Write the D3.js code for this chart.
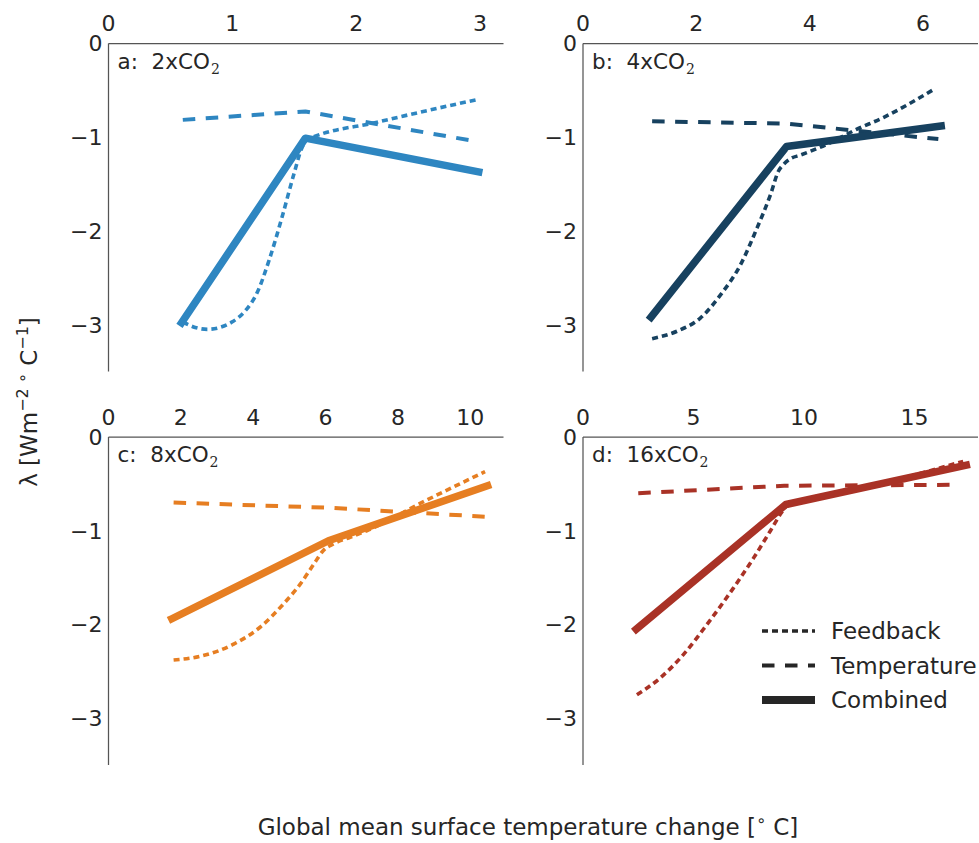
<!DOCTYPE html>
<html>
<head>
<meta charset="utf-8">
<script src="https://cdn.jsdelivr.net/npm/d3@7"></script>
<style>
  body { margin: 0; background: #fff; }
  svg text { font-family: 'DejaVu Sans', sans-serif; fill: #262626; }
</style>
</head>
<body>
<svg id="chart" width="979" height="843"></svg>
<script>
// panel names and axis ranges
const panelLabels = ['a: 2xCO', 'b: 4xCO', 'c: 8xCO', 'd: 16xCO'];
const panelColors = ['#2e86c1', '#17415f', '#e67e22', '#a93226'];
const xMax = [3.19, 6.97, 10.92, 17.87];
const xTicks = [[0, 1, 2, 3], [0, 2, 4, 6], [0, 2, 4, 6, 8, 10], [0, 5, 10, 15]];
const yTicks = [0, -1, -2, -3];
const legendLabels = ['Feedback', 'Temperature', 'Combined'];

// [temperature change, lambda] pairs
const feedbackA = [[0.60, -2.97], [0.70, -3.03], [0.80, -3.05], [0.90, -3.03], [1.00, -2.97], [1.10, -2.86], [1.20, -2.66], [1.30, -2.30], [1.40, -1.86], [1.50, -1.38], [1.56, -1.12], [1.60, -1.03], [2.17, -0.84], [2.97, -0.60]];
const temperatureA = [[0.60, -0.815], [1.59, -0.725], [2.95, -1.04]];
const combinedA = [[0.59, -2.98], [1.59, -1.01], [2.99, -1.37]];

const feedbackB = [[1.22, -3.15], [1.66, -3.07], [2.07, -2.93], [2.43, -2.68], [2.78, -2.36], [3.07, -1.97], [3.31, -1.61], [3.45, -1.36], [3.54, -1.29], [3.66, -1.23], [3.84, -1.19], [4.43, -1.04], [4.78, -0.93], [5.30, -0.79], [6.19, -0.49]];
const temperatureB = [[1.22, -0.83], [3.60, -0.855], [6.27, -1.02]];
const combinedB = [[1.20, -2.92], [3.59, -1.10], [6.32, -0.88]];

const feedbackC = [[1.80, -2.38], [2.54, -2.34], [3.46, -2.21], [4.19, -2.03], [4.84, -1.78], [5.30, -1.57], [5.67, -1.36], [5.94, -1.21], [6.22, -1.14], [6.68, -1.07], [7.14, -1.00], [8.71, -0.69], [10.41, -0.37]];
const temperatureC = [[1.80, -0.70], [6.10, -0.755], [10.40, -0.85]];
const combinedC = [[1.75, -1.94], [6.08, -1.107], [10.48, -0.52]];

const feedbackD = [[2.44, -2.75], [3.50, -2.57], [4.55, -2.32], [5.61, -2.00], [6.81, -1.61], [7.72, -1.29], [8.48, -1.00], [9.00, -0.80], [9.20, -0.74], [13.0, -0.53], [17.2, -0.26]];
const temperatureD = [[2.50, -0.60], [9.10, -0.52], [16.70, -0.51]];
const combinedD = [[2.41, -2.05], [9.18, -0.72], [17.34, -0.30]];

const feedback = [feedbackA, feedbackB, feedbackC, feedbackD];
const temperature = [temperatureA, temperatureB, temperatureC, temperatureD];
const combined = [combinedA, combinedB, combinedC, combinedD];

const svg = d3.select('#chart');
const lefts = [108.5, 583, 108.5, 583];
const tops = [43.5, 43.5, 437, 437];
const axW = 395, axH = 328;

const lineStyles = {
  feedback: { width: 3.6, dash: '6,4', cap: 'butt' },
  temperature: { width: 4, dash: '12.5,10.5', cap: 'butt' },
  combined: { width: 7.5, dash: null, cap: 'square' }
};

function drawLine(g, data, x, y, color, style, curve) {
  g.append('path')
    .datum(data)
    .attr('fill', 'none')
    .attr('stroke', color)
    .attr('stroke-width', style.width)
    .attr('stroke-dasharray', style.dash)
    .attr('stroke-linecap', style.cap)
    .attr('stroke-linejoin', 'round')
    .attr('d', d3.line().x(d => x(d[0])).y(d => y(d[1])).curve(curve));
}

panelLabels.forEach((label, i) => {
  const g = svg.append('g').attr('transform', `translate(${lefts[i]}, ${tops[i]})`);
  const x = d3.scaleLinear().domain([0, xMax[i]]).range([0, axW]);
  const y = d3.scaleLinear().domain([-3.5, 0]).range([axH, 0]);

  // spines: top and left only
  g.append('line').attr('x1', 0).attr('x2', axW).attr('y1', 0).attr('y2', 0)
    .attr('stroke', '#555').attr('stroke-width', 1.25);
  g.append('line').attr('x1', 0).attr('x2', 0).attr('y1', 0).attr('y2', axH)
    .attr('stroke', '#555').attr('stroke-width', 1.25);

  g.selectAll('.xtick')
    .data(xTicks[i])
    .enter()
    .append('text')
    .attr('x', d => x(d))
    .attr('y', -12.5)
    .attr('text-anchor', 'middle')
    .attr('font-size', 22)
    .text(d => d);

  g.selectAll('.ytick')
    .data(yTicks)
    .enter()
    .append('text')
    .attr('x', -6)
    .attr('y', d => y(d))
    .attr('dy', '0.36em')
    .attr('text-anchor', 'end')
    .attr('font-size', 22)
    .text(d => d === 0 ? '0' : '\u2212' + Math.abs(d));

  const t = g.append('text')
    .attr('x', 9)
    .attr('y', 25)
    .attr('font-size', 21.5)
    .text(label.replace(': ', ':\u00a0 '));
  t.append('tspan')
    .attr('dy', 5)
    .attr('dx', 1)
    .attr('font-size', 14)
    .attr('font-family', 'DejaVu Serif, serif')
    .text('2');

  drawLine(g, temperature[i], x, y, panelColors[i], lineStyles.temperature, d3.curveLinear);
  drawLine(g, feedback[i], x, y, panelColors[i], lineStyles.feedback, d3.curveMonotoneX);
  drawLine(g, combined[i], x, y, panelColors[i], lineStyles.combined, d3.curveLinear);
});

// legend in panel d
const legend = svg.append('g').attr('transform', 'translate(762, 631)');
const legendStyles = [lineStyles.feedback, lineStyles.temperature, lineStyles.combined];
legendLabels.forEach((name, i) => {
  const row = legend.append('g').attr('transform', `translate(0, ${i * 34.5})`);
  const st = legendStyles[i];
  row.append('line')
    .attr('x1', st.cap === 'square' ? 4 : 0).attr('x2', st.cap === 'square' ? 49 : 53)
    .attr('y1', 0).attr('y2', 0)
    .attr('stroke', '#262626')
    .attr('stroke-width', i === 2 ? 8 : st.width)
    .attr('stroke-dasharray', st.dash)
    .attr('stroke-linecap', st.cap);
  row.append('text')
    .attr('x', 69)
    .attr('y', 0)
    .attr('dy', '0.36em')
    .attr('font-size', 23)
    .text(name);
});

// axis labels
const xl = svg.append('text')
  .attr('x', 528)
  .attr('y', 835)
  .attr('text-anchor', 'middle')
  .attr('font-size', 23);
xl.append('tspan').text('Global mean surface temperature change [');
xl.append('tspan').attr('dy', -9).attr('font-size', 16).text('\u2218');
xl.append('tspan').attr('dy', 9).text(' C]');

const yl = svg.append('text')
  .attr('transform', 'translate(37, 402) rotate(-90)')
  .attr('text-anchor', 'middle')
  .attr('font-size', 23);
yl.append('tspan').text('\u03bb  [Wm');
yl.append('tspan').attr('dy', -9).attr('font-size', 16).text('\u22122');
yl.append('tspan').attr('dy', 0).attr('font-size', 16).text(' \u2218');
yl.append('tspan').attr('dy', 9).text(' C');
yl.append('tspan').attr('dy', -9).attr('font-size', 16).text('\u22121');
yl.append('tspan').attr('dy', 9).text(']');
</script>
</body>
</html>
